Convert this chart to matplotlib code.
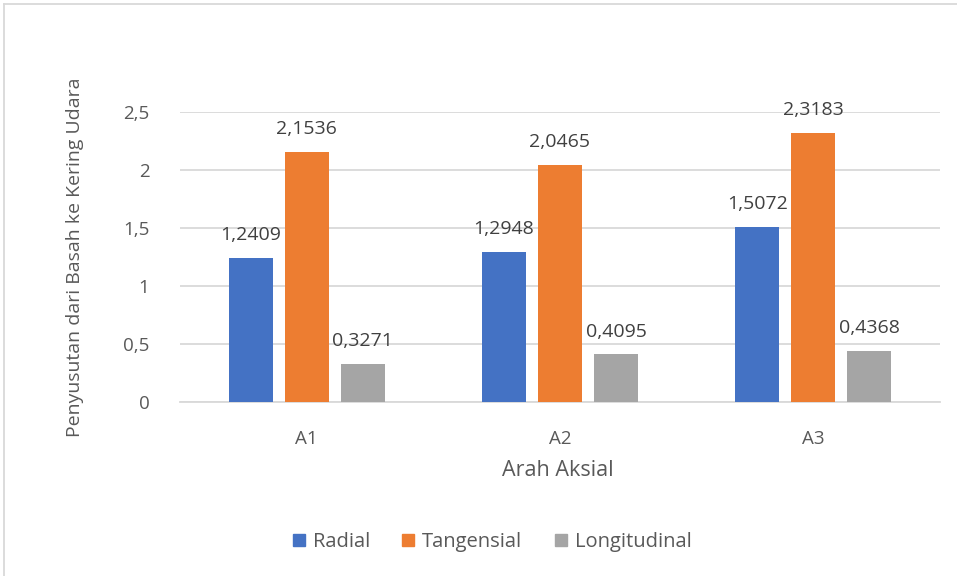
import matplotlib
matplotlib.use("Agg")
import matplotlib.pyplot as plt
import numpy as np

categories = ["A1", "A2", "A3"]
radial = [1.2409, 1.2948, 1.5072]
tangensial = [2.1536, 2.0465, 2.3183]
longitudinal = [0.3271, 0.4095, 0.4368]
series_names = ["Radial", "Tangensial", "Longitudinal"]
colors = ["#4472C4", "#ED7D31", "#A5A5A5"]
yticks = [0, 0.5, 1, 1.5, 2, 2.5]
ytick_labels = ["0", "0,5", "1", "1,5", "2", "2,5"]

plt.rcParams['font.family'] = ['Open Sans', 'DejaVu Sans']
txt = "#595959"

fig = plt.figure(figsize=(9.57, 5.76), dpi=100)
ax = fig.add_axes([180/957, 1-402/576, 760/957, 290/576])

x = np.arange(len(categories))
w = 0.174
step = 0.221
data = [radial, tangensial, longitudinal]
for i, (vals, name, c) in enumerate(zip(data, series_names, colors)):
    bars = ax.bar(x + (i-1)*step, vals, w, color=c, label=name, zorder=3)
    for b, v in zip(bars, vals):
        ax.text(b.get_x()+b.get_width()/2, v + 0.12, f"{v:.4f}".replace(".", ","),
                ha="center", va="bottom", fontsize=14, color="#404040")

ax.set_xlim(-0.5, 2.5)
ax.set_ylim(0, 2.5)
ax.set_yticks(yticks)
ax.set_yticklabels(ytick_labels)
ax.set_xticks(x)
ax.set_xticklabels(categories)
ax.tick_params(axis='both', length=0, labelsize=13.5, colors=txt)
ax.tick_params(axis='x', pad=20)
ax.tick_params(axis='y', pad=22)
ax.grid(axis='y', color="#D9D9D9", linewidth=1.3, zorder=0)
for s in ["top", "right", "left"]:
    ax.spines[s].set_visible(False)
ax.spines["bottom"].set_color("#D9D9D9")
ax.spines["bottom"].set_linewidth(1.3)

fig.text(558/957, 1-470/576, "Arah Aksial", ha="center", va="center", fontsize=15.5, color=txt)
fig.text(75/957, 1-257/576, "Penyusutan dari Basah ke Kering Udara", ha="center", va="center",
         rotation=90, fontsize=14, color=txt)

handles = [plt.Rectangle((0, 0), 1, 1, color=c) for c in colors]
fig.legend(handles, series_names, loc="center", bbox_to_anchor=(492/957, 1-542/576), ncol=3,
           frameon=False, fontsize=14.5, labelcolor=txt, handlelength=0.6, handleheight=0.6,
           columnspacing=1.6, handletextpad=0.4)

# chart border
fig.add_artist(plt.Line2D([4/957, 4/957], [0, 1-4/576], color="#D9D9D9", lw=1.3, transform=fig.transFigure))
fig.add_artist(plt.Line2D([4/957, 1], [1-4/576, 1-4/576], color="#D9D9D9", lw=1.3, transform=fig.transFigure))

fig.savefig("out.png", dpi=100)
